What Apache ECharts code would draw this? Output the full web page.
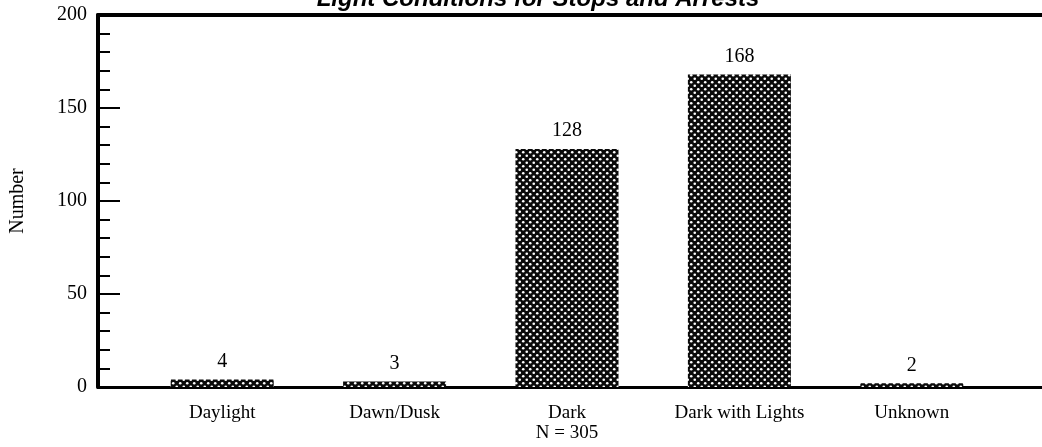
<!DOCTYPE html>
<html>
<head>
<meta charset="utf-8">
<script src="https://cdn.jsdelivr.net/npm/echarts@6/dist/echarts.min.js"></script>
<style>
html,body{margin:0;padding:0;background:#fff;}
#main{width:1042px;height:447px;}
</style>
</head>
<body>
<div id="main"></div>
<script>
const titleText = 'Light Conditions for Stops and Arrests';
const categories = ['Daylight', 'Dawn/Dusk', 'Dark\nN = 305', 'Dark with Lights', 'Unknown'];
const counts = [4, 3, 128, 168, 2];
const yName = 'Number';

function makePattern() {
  const c = document.createElement('canvas');
  c.width = 7; c.height = 7;
  const g = c.getContext('2d');
  g.fillStyle = '#0a0a0a';
  g.fillRect(0, 0, 7, 7);
  g.fillStyle = '#fff';
  g.beginPath(); g.arc(1.75, 1.75, 1.3, 0, Math.PI * 2); g.fill();
  g.beginPath(); g.arc(5.25, 5.25, 1.3, 0, Math.PI * 2); g.fill();
  return c;
}

const serif = '"Liberation Serif", "DejaVu Serif", serif';
const chart = echarts.init(document.getElementById('main'));
chart.setOption({
  animation: false,
  backgroundColor: '#fff',
  title: {
    text: titleText,
    left: 538,
    textAlign: 'center',
    top: -13,
    padding: 0,
    textStyle: {
      fontFamily: '"Liberation Sans", Arial, sans-serif',
      fontStyle: 'italic',
      fontWeight: 'bold',
      fontSize: 24,
      color: '#000'
    }
  },
  grid: [
    { left: 98, right: 0, top: 15, bottom: 60, outerBoundsMode: 'none', containLabel: false },
    { left: 136, right: 44, top: 15, bottom: 60, outerBoundsMode: 'none', containLabel: false }
  ],
  xAxis: [
    {
      type: 'value', gridIndex: 0, min: 0, max: 1, position: 'bottom',
      axisLine: { show: true, lineStyle: { color: '#000', width: 3 } },
      axisTick: { show: false }, axisLabel: { show: false }, splitLine: { show: false }
    },
    {
      type: 'value', gridIndex: 0, min: 0, max: 1, position: 'top',
      axisLine: { show: true, lineStyle: { color: '#000', width: 4 } },
      axisTick: { show: false }, axisLabel: { show: false }, splitLine: { show: false }
    },
    {
      type: 'category', gridIndex: 1, data: categories,
      axisLine: { show: false }, axisTick: { show: false },
      axisLabel: {
        color: '#000', fontFamily: serif, fontSize: 19, margin: 16, lineHeight: 20,
        interval: 0
      }
    }
  ],
  yAxis: [
    {
      type: 'value', gridIndex: 0, min: 0, max: 200, interval: 50,
      name: yName, nameLocation: 'middle', nameGap: 70, nameRotate: 90,
      nameTextStyle: { color: '#000', fontFamily: serif, fontSize: 20 },
      axisLine: { show: true, lineStyle: { color: '#000', width: 4 } },
      axisTick: { show: true, inside: true, length: 22, lineStyle: { color: '#000', width: 2 } },
      minorTick: { show: true, splitNumber: 5, length: 12, lineStyle: { color: '#000', width: 2 } },
      axisLabel: { color: '#000', fontFamily: serif, fontSize: 20, margin: 11 },
      splitLine: { show: false }
    },
    {
      type: 'value', gridIndex: 1, min: 0, max: 200, show: false
    }
  ],
  series: [{
    type: 'bar',
    xAxisIndex: 2,
    yAxisIndex: 1,
    data: counts,
    barWidth: 103,
    itemStyle: { color: { image: makePattern(), repeat: 'repeat' } },
    label: {
      show: true, position: 'top', distance: 8,
      color: '#000', fontFamily: serif, fontSize: 20
    }
  }]
});
</script>
</body>
</html>
